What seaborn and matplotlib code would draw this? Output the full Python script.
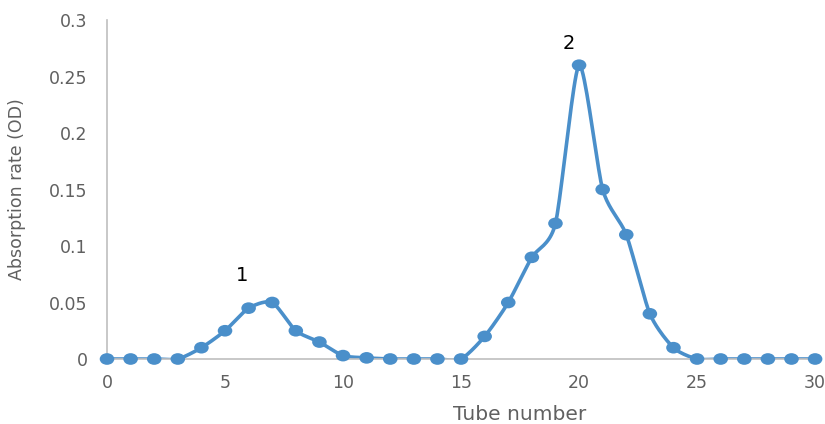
import numpy as np
import pandas as pd
import matplotlib
matplotlib.use("Agg")
import matplotlib.pyplot as plt
import seaborn as sns
from matplotlib.ticker import FuncFormatter
from matplotlib.path import Path
from matplotlib.transforms import Affine2D

# Absorbance per collected tube
tubes = list(range(0, 31))
absorbance = [0, 0, 0, 0, 0.01, 0.025, 0.045, 0.05, 0.025, 0.015,
              0.003, 0.001, 0, 0, 0, 0, 0.02, 0.05, 0.09, 0.12,
              0.26, 0.15, 0.11, 0.04, 0.01, 0, 0, 0, 0, 0, 0]
peak_labels = ["1", "2"]
peak_pos = [(5.72, 0.074), (19.55, 0.279)]

x_ticks = [0, 5, 10, 15, 20, 25, 30]
y_ticks = [0, 0.05, 0.1, 0.15, 0.2, 0.25, 0.3]


def smooth_curve(x, y, steps=20, tension=0.35):
    """Cardinal spline through the points (spreadsheet-style smoothing)."""
    x = np.asarray(x, float)
    y = np.asarray(y, float)
    px = np.concatenate([[x[0]], x, [x[-1]]])
    py = np.concatenate([[y[0]], y, [y[-1]]])
    xs, ys = [], []
    t = np.linspace(0, 1, steps, endpoint=False)
    for i in range(1, len(px) - 2):
        p0, p1, p2, p3 = (np.array([px[j], py[j]]) for j in (i - 1, i, i + 1, i + 2))
        m1 = tension * (p2 - p0)
        m2 = tension * (p3 - p1)
        h00 = 2 * t**3 - 3 * t**2 + 1
        h10 = t**3 - 2 * t**2 + t
        h01 = -2 * t**3 + 3 * t**2
        h11 = t**3 - t**2
        pts = (np.outer(h00, p1) + np.outer(h10, m1) +
               np.outer(h01, p2) + np.outer(h11, m2))
        xs.extend(pts[:, 0])
        ys.extend(pts[:, 1])
    xs.append(x[-1])
    ys.append(y[-1])
    return np.array(xs), np.array(ys)


sns.set_theme(style="white")
plt.rcParams["font.family"] = ["DejaVu Sans"]

color = "#4A8FCA"
grey = "#606060"
spine = "#BFBFBF"

# slightly wide oval dot marker
oval = Path.unit_circle().transformed(Affine2D().scale(1.25, 1.0))

fig = plt.figure(figsize=(8.25, 4.24), dpi=100)
ax = fig.add_axes([0.1297, 0.1533, 0.8583, 0.7995])

sx, sy = smooth_curve(tubes, absorbance)
curve = pd.DataFrame({"tube": sx, "od": sy})
points = pd.DataFrame({"tube": tubes, "od": absorbance})

sns.lineplot(data=curve, x="tube", y="od", ax=ax, color=color, lw=2.6,
             sort=False, estimator=None, zorder=2)
sns.scatterplot(data=points, x="tube", y="od", ax=ax, color=color, s=110,
                marker=oval, edgecolor="none", linewidth=0, zorder=3,
                clip_on=False)

for lab, (px, py) in zip(peak_labels, peak_pos):
    ax.text(px, py, lab, ha="center", va="center", fontsize=14,
            color="black")

ax.set_xlim(0, 30)
ax.set_ylim(0, 0.3)
ax.set_xticks(x_ticks)
ax.set_yticks(y_ticks)
ax.yaxis.set_major_formatter(FuncFormatter(lambda v, p: f"{v:g}"))

for s in ["top", "right"]:
    ax.spines[s].set_visible(False)
for s in ["left", "bottom"]:
    ax.spines[s].set_color(spine)
    ax.spines[s].set_linewidth(1.2)

ax.tick_params(axis="x", direction="out", length=5, width=1.2, color=spine,
               labelsize=12.5, labelcolor=grey, pad=6)
ax.tick_params(axis="y", direction="out", length=5, width=1.2, color=spine,
               labelsize=12.5, labelcolor=grey, pad=9)

ax.set_xlabel("Tube number", fontsize=14.5, color=grey)
ax.set_ylabel("Absorption rate (OD)", fontsize=12.5, color=grey)
ax.xaxis.set_label_coords(0.583, -0.135)
ax.yaxis.set_label_coords(-0.115, 0.50)

fig.savefig("out.png", dpi=100)
